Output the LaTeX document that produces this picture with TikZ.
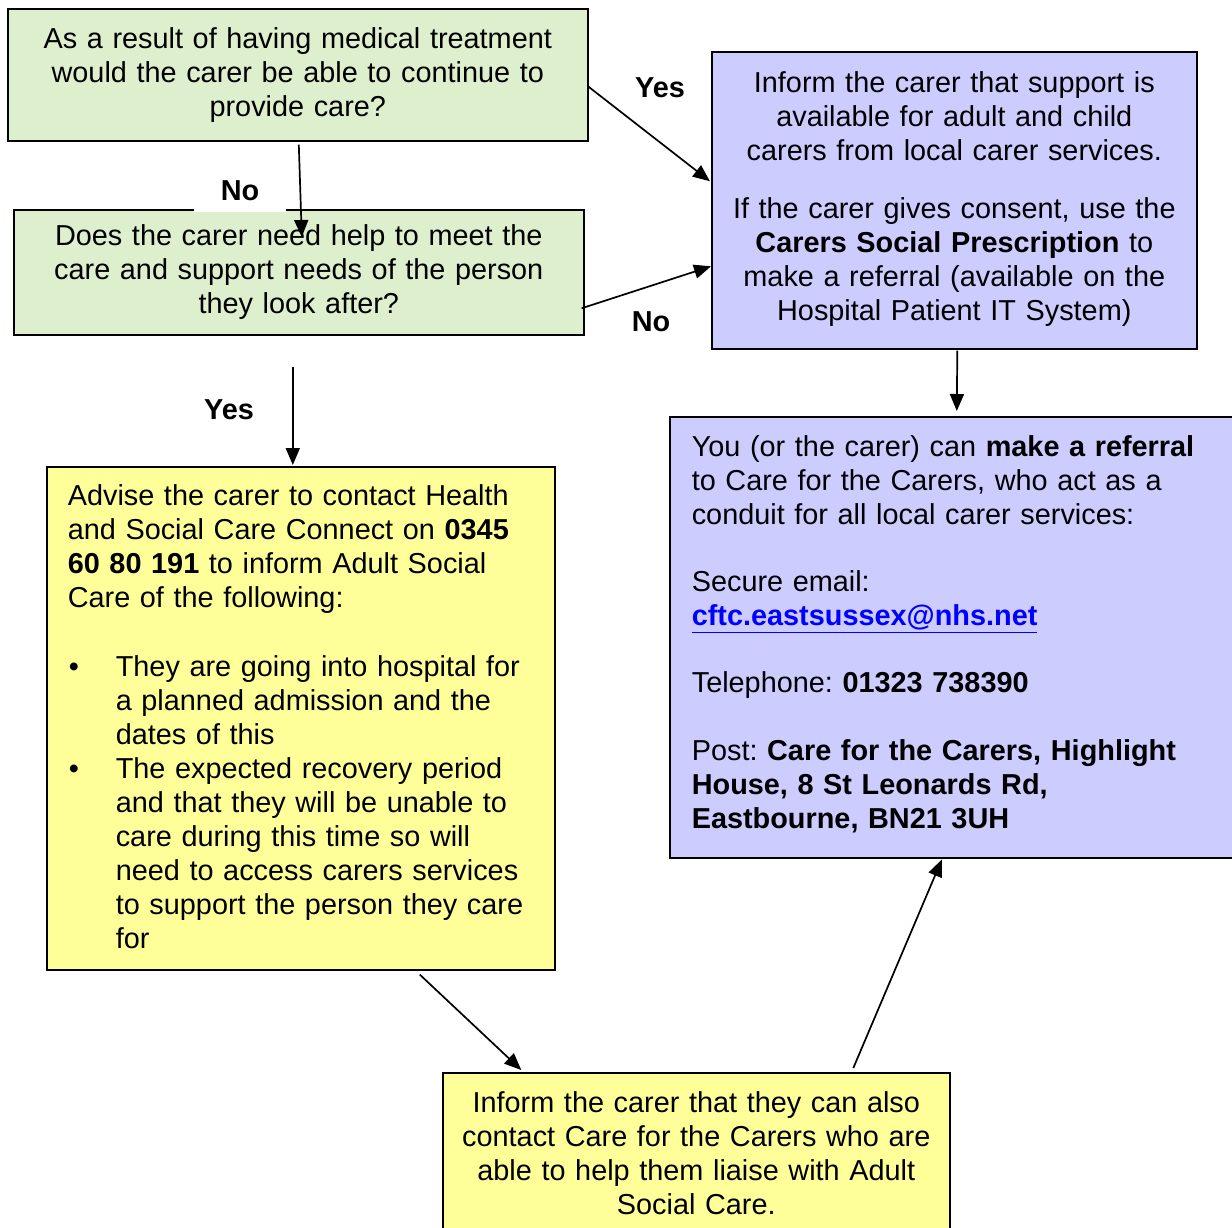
\documentclass[tikz,border=0pt]{standalone}
\usepackage{fontspec}
\setmainfont{Liberation Sans}
\usetikzlibrary{arrows.meta,calc}
\definecolor{boxgreen}{RGB}{222,239,206}
\definecolor{boxblue}{RGB}{204,204,255}
\definecolor{boxyellow}{RGB}{255,255,153}
\definecolor{linkblue}{RGB}{0,0,255}
\begin{document}
\begin{tikzpicture}[x=1pt,y=-1pt,
  box/.style={draw=black, line width=1.6pt, anchor=north west, inner ysep=2pt,
    font=\fontsize{28.85}{34}\selectfont\frenchspacing},
  cbox/.style={box, align=center, inner xsep=8pt},
  lbox/.style={box, align=left},
  lbl/.style={font=\fontsize{28.85}{34}\selectfont\bfseries, inner sep=0pt},
  arr/.style={-{Triangle[length=17pt,width=14pt]}, line width=1.7pt}]
\useasboundingbox (0,0) rectangle (1232,1228);
\fill[white] (0,0) rectangle (1232,1228);

\node[cbox, fill=boxgreen, minimum width=580pt, minimum height=132pt, text width=564pt] (b1) at (7,8)
  {As a result of having medical treatment\\would the carer be able to continue to\\provide care?\\[-28pt]\mbox{}};
\node[cbox, fill=boxgreen, minimum width=570pt, minimum height=125pt, text width=554pt] (b2) at (13,209)
  {Does the carer need help to meet the\\care and support needs of the person\\they look after?};
\node[cbox, fill=boxblue, minimum width=485pt, minimum height=297pt, text width=469pt] (b3) at (711,51)
  {Inform the carer that support is\\available for adult and child\\carers from local carer services.\\[24pt]If the carer gives consent, use the\\\textbf{Carers Social Prescription} to\\make a referral (available on the\\Hospital Patient IT System)\\[-26pt]\mbox{}};
\node[lbox, fill=boxblue, inner xsep=22pt, minimum width=600pt, minimum height=441pt, text width=556pt] (b4) at (669,416)
  {You (or the carer) can \textbf{make a referral}\\to Care for the Carers, who act as a\\conduit for all local carer services:\\[33pt]Secure email:\\{\color{linkblue}\textbf{\underline{cftc.eastsussex@nhs.net}}}\\[33pt]Telephone: \textbf{01323 738390}\\[34pt]Post: \textbf{Care for the Carers, Highlight}\\\textbf{House, 8 St Leonards Rd,}\\\textbf{Eastbourne, BN21 3UH}\\[-24pt]\mbox{}};
\node[lbox, fill=boxyellow, inner xsep=21pt, minimum width=508pt, minimum height=503pt, text width=466pt] (b5) at (46,466)
  {Advise the carer to contact Health\\and Social Care Connect on \textbf{0345}\\\textbf{60 80 191} to inform Adult Social\\Care of the following:\\[35pt]\hspace*{1pt}\makebox[47pt][l]{\textbullet}They are going into hospital for\\\hspace*{48pt}a planned admission and the\\\hspace*{48pt}dates of this\\\hspace*{1pt}\makebox[47pt][l]{\textbullet}The expected recovery period\\\hspace*{48pt}and that they will be unable to\\\hspace*{48pt}care during this time so will\\\hspace*{48pt}need to access carers services\\\hspace*{48pt}to support the person they care\\\hspace*{48pt}for\\[-30pt]\mbox{}};
\node[cbox, fill=boxyellow, minimum width=507pt, minimum height=160pt, text width=491pt] (b6) at (442,1072)
  {Inform the carer that they can also\\contact Care for the Carers who are\\able to help them liaise with Adult\\Social Care.};

\node[lbl, fill=white, minimum width=92pt, minimum height=42pt] (no1) at (240,191) {No};
\node[lbl] (yes1) at (660,88) {Yes};
\node[lbl] (no2) at (651,322) {No};
\node[lbl] (yes2) at (229,410) {Yes};

\draw[arr] ($(b1.south)+(1,3)$) -- ($(b2.north)+(3,28)$);
\draw[arr] ($(b1.east)+(0,12)$) -- ($(b3.west)+(-1,-19)$);
\draw[arr] ($(b2.east)+(-3,36)$) -- ($(b3.west)+(0,66)$);
\draw[arr] ($(b3.south)+(3,1)$) -- ($(b4.north)+(-13,-5)$);
\draw[arr] ($(b2.south)+(-6,31)$) -- ($(b5.north)+(-8,-1)$);
\draw[arr] ($(b5.south)+(119,4)$) -- ($(b6.north)+(-175,-2)$);
\draw[arr] ($(b6.north)+(157,-4)$) -- ($(b4.south)+(-28,1)$);
\end{tikzpicture}
\end{document}
